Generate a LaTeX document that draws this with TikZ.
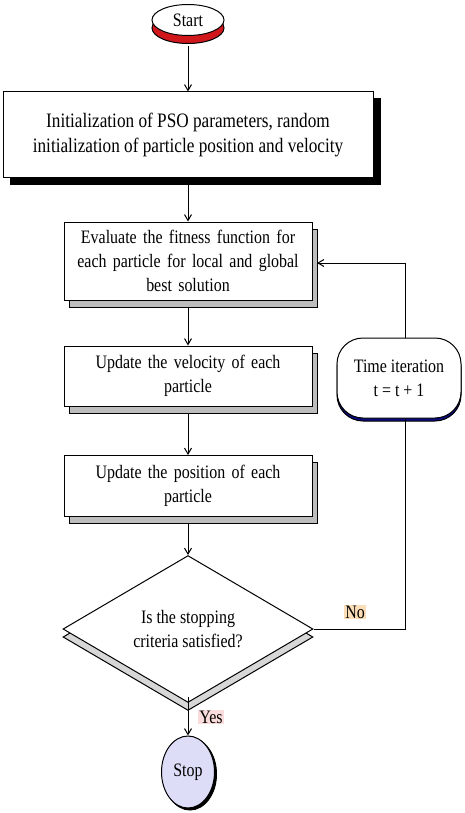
\documentclass[tikz,border=0pt]{standalone}
\usepackage{fontspec}
\setmainfont{Liberation Serif}[FakeStretch=0.84]
\usetikzlibrary{shapes.geometric,shapes.misc,shadows,arrows.meta,calc}
\definecolor{startred}{HTML}{D0181C}
\definecolor{stopfill}{HTML}{DDDDF8}
\definecolor{shadegray}{HTML}{BDBDBD}
\definecolor{navyshade}{HTML}{0A0A80}
\definecolor{nofill}{HTML}{FBDDB8}
\definecolor{yesfill}{HTML}{FBDCDC}
\tikzset{
  every node/.style={font=\fontsize{19}{24}\selectfont},
  line/.style={draw=black, line width=1pt},
  arr/.style={line, -{Straight Barb[length=6pt,width=7pt,line width=1pt]}},
  bigbox/.style={draw=black, line width=1pt, fill=white, minimum width=370pt, minimum height=86pt, align=center,
     general shadow={shadow xshift=7pt, shadow yshift=-7pt, fill=black, draw=black}},
  graybox/.style={draw=black, line width=1pt, fill=white, minimum width=248pt, align=center, text width=236pt,
     general shadow={shadow xshift=5pt, shadow yshift=-7pt, fill=shadegray, draw=black, line width=1pt}},
  decision/.style={diamond, draw=black, line width=1pt, fill=white, minimum width=250pt, minimum height=119pt, inner sep=0pt, align=center,
     general shadow={shadow yshift=-8pt, fill=shadegray!60, draw=black, line width=1pt}},
}
\begin{document}
\begin{tikzpicture}[x=1pt,y=-1pt]
\useasboundingbox (0,0) rectangle (464,813);
% Start
\node[ellipse, draw=black, line width=1pt, fill=white, minimum width=72pt, minimum height=31pt, inner sep=0pt,
  general shadow={shadow yshift=-8pt, fill=startred, draw=black, line width=1pt}] (start) at (188,20) {Start};
\coordinate (startbot) at (188,46);
% Init
\node[bigbox, font=\fontsize{20.5}{25}\selectfont] (init) at (188,135) {Initialization of PSO parameters, random\\initialization of particle position and velocity};
\coordinate (initbot) at (188,185);
% Evaluate
\node[graybox, minimum height=78pt] (eval) at (188,261) {Evaluate the fitness function for\\each particle for local and global\\best solution};
\coordinate (evalbot) at (188,307);
\coordinate (evalin) at (317,263);
% Velocity
\node[graybox, minimum height=60pt] (vel) at (188,376) {Update the velocity of each\\particle};
\coordinate (velbot) at (188,413);
% Position
\node[graybox, minimum height=61pt] (pos) at (188,486) {Update the position of each\\particle};
\coordinate (posbot) at (188,524);
% Decision
\node[decision] (dec) at (188,629) {Is the stopping\\criteria satisfied?};
\coordinate (decbot) at (188,697);
% Time iteration
\node[rectangle, rounded corners=26pt, draw=black, line width=1pt, fill=white, minimum width=124pt, minimum height=80pt, align=center,
  general shadow={shadow yshift=-3pt, fill=navyshade, draw=black, line width=1pt}] (time) at (399,378) {Time iteration\\t = t + 1};
% Stop
\node[ellipse, draw=black, line width=1pt, fill=stopfill, minimum width=53pt, minimum height=72pt, inner sep=0pt,
  general shadow={shadow xshift=2pt, shadow yshift=-2pt, fill=black, draw=black}] (stop) at (188,772) {Stop};
% connectors
\draw[arr] (startbot) -- (init.north);
\draw[arr] (initbot) -- (eval.north);
\draw[arr] (evalbot) -- (vel.north);
\draw[arr] (velbot) -- (pos.north);
\draw[arr] (posbot) -- (dec.north);
\draw[arr] (decbot) -- (stop.north);
\node[fill=yesfill, inner sep=1pt] (yes) at (211,717) {Yes};
\coordinate (looptop) at (405,263);
\coordinate (loopbot) at (405,629);
\draw[line] (dec.east) -- (loopbot) -- (loopbot |- time.south);
\draw[arr] (looptop |- time.north) -- (looptop) -- (evalin);
\node[fill=nofill, inner sep=1pt] (no) at (355,612) {No};
\end{tikzpicture}
\end{document}
